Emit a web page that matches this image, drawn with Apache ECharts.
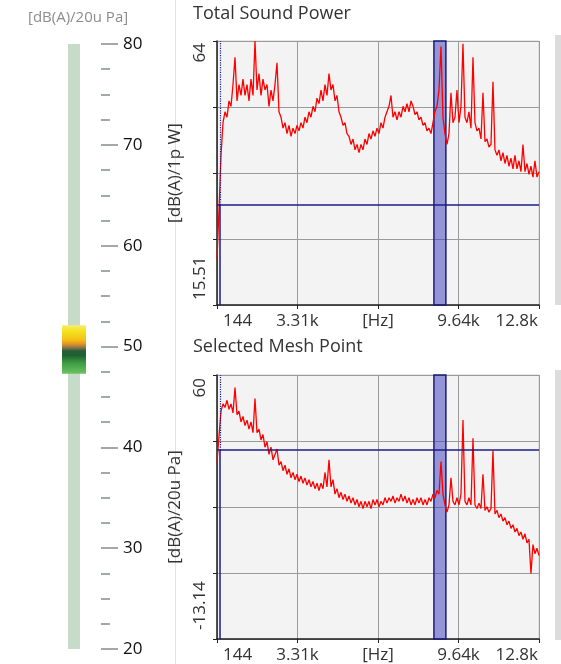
<!DOCTYPE html>
<html>
<head>
<meta charset="utf-8">
<script src="https://cdn.jsdelivr.net/npm/echarts@6/dist/echarts.min.js"></script>
<style>
  html, body { margin: 0; padding: 0; background: #fff; }
  #chart { width: 561px; height: 664px; }
</style>
</head>
<body>
<div id="chart"></div>
<script>
var fontFamily = '"Open Sans", "Noto Sans", sans-serif'

// frequency axis [Hz]
var xMin = 144
var xMax = 12800
var xInterval = 3164
var xTickLabels = ['144', '3.31k', '[Hz]', '9.64k', '12.8k']
var freqStart = 144
var freqStep = 78.6

// Total Sound Power [dB(A)/1p W]
var powerMin = 15.51
var powerMax = 64
var powerTickLabels = ['15.51', '', '', '', '64']
var powerValues = [
  24, 33, 43, 49, 51, 50, 53, 52, 56, 61,
  53, 56, 54, 57, 54, 56, 53, 57, 54, 64,
  55, 58, 54, 57, 55, 56, 52, 55, 53, 56,
  60, 51, 50, 48, 49, 47, 48.5, 46.5, 48, 47,
  48.5, 47.5, 49, 48, 50, 49, 51, 50, 52, 51,
  53.5, 52.5, 55, 53, 56, 54, 58, 55, 56, 53,
  54, 51, 50, 48.5, 49, 47, 46.5, 45, 46, 44,
  45, 43.5, 45, 44, 46, 45, 47, 46, 47.5, 46.5,
  48, 47, 49, 48, 50, 51, 52, 54, 50, 51,
  49.5, 51, 50, 52, 51, 52.5, 51, 53, 52, 50.5,
  51, 49.5, 50, 48.5, 49, 47.5, 48, 47, 49, 51,
  52, 55, 63, 50, 47, 45, 47, 54.5, 49, 50,
  55, 49, 52, 63.5, 50, 49, 51, 48, 61, 49,
  47.5, 48, 46, 54.5, 45.5, 46, 44.5, 45, 56.5, 44,
  43, 44, 42, 43.5, 41.5, 43, 41, 42.5, 40.5, 43,
  40.5, 42, 40, 45, 40, 41.5, 39.5, 41, 39, 42,
  39, 40
]
var powerCursor = 33.88

// Selected Mesh Point [dB(A)/20u Pa]
var meshMin = -13.14
var meshMax = 60
var meshTickLabels = ['-13.14', '', '', '', '60']
var meshValues = [
  36, 43, 50, 52, 51, 53, 50.5, 52, 49.5, 56.5,
  49, 50, 47, 48.5, 46, 47.5, 45, 47, 44, 53.5,
  44, 45, 42, 43.5, 40, 41.5, 38, 40, 36.5, 38,
  39.5, 35, 36, 33.5, 35, 32.5, 34, 31.5, 33, 31,
  32.5, 30.5, 32, 30, 31.5, 29.5, 31, 29, 30.5, 28.5,
  30, 28, 30, 28.5, 33, 29, 36.5, 29, 31, 27,
  28.5, 26, 27.5, 25.5, 27, 25, 26.5, 24.5, 26, 24,
  25.5, 23.5, 25, 23, 25, 23.5, 25, 23, 25.5, 24,
  25.5, 23.5, 25, 24, 26, 24.5, 26, 25, 26.5, 24.5,
  26, 25, 27, 25, 26.5, 24.5, 26, 24, 25.5, 24,
  26, 24.5, 26, 24, 25.5, 24, 26, 25, 27, 26,
  28, 27, 36, 27, 24, 22, 24, 31.5, 25, 24,
  26, 24, 27, 47.5, 25, 24, 26, 24, 42.5, 24,
  23, 24.5, 23, 32.5, 22.5, 23.5, 22, 23, 39, 21.5,
  22.5, 20.5, 21.5, 19.5, 20.5, 18.5, 19.5, 17.5, 18.5, 16.5,
  17.5, 15.5, 16.5, 14.5, 16, 13.5, 14.5, 5, 13, 10.5,
  12, 10
]
var meshCursor = 39.2

// selected band and cursor frequency [Hz]
var bandFrom = 8670
var bandTo = 9140
var cursorFreq = 262

// level scale on the left
var scaleMin = 20
var scaleMax = 80
var levelLow = 47.3
var levelHigh = 52.1

function toPairs(values) {
  return values.map(function (v, i) {
    return [freqStart + i * freqStep, v]
  })
}

var labelSize = 17

var richEnds = {
  first: { fontSize: labelSize, color: '#333', fontFamily: fontFamily, width: 60, align: 'left', padding: [0, 0, 0, 72] },
  last: { fontSize: labelSize, color: '#333', fontFamily: fontFamily, width: 60, align: 'right', padding: [0, 62, 0, 0] }
}

function freqAxis(gridIndex) {
  return {
    type: 'value',
    gridIndex: gridIndex,
    min: xMin,
    max: xMax,
    interval: xInterval,
    axisLine: { show: true, onZero: false, lineStyle: { color: '#222', width: 1.5 } },
    axisTick: { show: true, length: 4, lineStyle: { color: '#222' } },
    axisLabel: {
      margin: 8,
      color: '#333',
      fontSize: labelSize,
      fontFamily: fontFamily,
      formatter: function (v, i) {
        if (i === 0) return '{first|' + xTickLabels[0] + '}'
        if (i === xTickLabels.length - 1) return '{last|' + xTickLabels[i] + '}'
        return xTickLabels[i]
      },
      rich: richEnds
    },
    splitLine: { show: true, lineStyle: { color: '#9a9a9a', width: 1 } }
  }
}

function levelAxis(gridIndex, min, max, labels, name, padMax, padMin) {
  return {
    type: 'value',
    gridIndex: gridIndex,
    min: min,
    max: max,
    interval: (max - min) / 4,
    name: name,
    nameLocation: 'middle',
    nameGap: 9,
    nameRotate: 90,
    nameTextStyle: { fontSize: labelSize, color: '#333', fontFamily: fontFamily },
    axisLine: { show: true, onZero: false, lineStyle: { color: '#222', width: 1.5 } },
    axisTick: { show: true, length: 4, lineStyle: { color: '#222' } },
    axisLabel: {
      rotate: 90,
      margin: 8,
      color: '#333',
      fontSize: labelSize,
      fontFamily: fontFamily,
      formatter: function (v, i) {
        if (i === 0) return '{first|' + labels[0] + '}'
        if (i === labels.length - 1) return '{last|' + labels[i] + '}'
        return ''
      },
      rich: {
        first: { fontSize: labelSize, color: '#333', fontFamily: fontFamily, width: 60, align: 'left', padding: [0, 0, 0, padMin] },
        last: { fontSize: labelSize, color: '#333', fontFamily: fontFamily, width: 60, align: 'right', padding: [0, padMax, 0, 0] }
      }
    },
    splitLine: { show: true, lineStyle: { color: '#9a9a9a', width: 1 } }
  }
}

function spectrumSeries(idx, values) {
  return {
    type: 'line',
    xAxisIndex: idx,
    yAxisIndex: idx,
    data: toPairs(values),
    showSymbol: false,
    symbol: 'none',
    lineStyle: { color: '#ff0000', width: 1.3 },
    z: 2
  }
}

function cursorSeries(idx, min, max, level) {
  return {
    type: 'line',
    xAxisIndex: idx,
    yAxisIndex: idx,
    data: [],
    z: 10,
    silent: true,
    markArea: {
      silent: true,
      itemStyle: { color: 'rgba(70, 70, 190, 0.55)', borderColor: '#1c1c7a', borderWidth: 1.5 },
      data: [[{ xAxis: bandFrom }, { xAxis: bandTo }]]
    },
    markLine: {
      silent: true,
      symbol: ['none', 'none'],
      label: { show: false },
      lineStyle: { color: '#1c1c86', width: 1.5, type: 'solid' },
      data: [
        { yAxis: level },
        [{ coord: [cursorFreq, min] }, { coord: [cursorFreq, level] }],
        [{ coord: [cursorFreq, level], lineStyle: { type: 'dotted', width: 1.2 } }, { coord: [cursorFreq, max] }]
      ]
    }
  }
}

var chart = echarts.init(document.getElementById('chart'))

chart.setOption({
  animation: false,
  textStyle: { fontFamily: fontFamily },
  title: [
    { text: 'Total Sound Power', left: 193, top: 5, padding: 0, textStyle: { fontSize: 18, fontWeight: 'normal', color: '#333', fontFamily: fontFamily } },
    { text: 'Selected Mesh Point', left: 193, top: 338, padding: 0, textStyle: { fontSize: 18, fontWeight: 'normal', color: '#333', fontFamily: fontFamily } },
    { text: '[dB(A)/20u Pa]', left: 28, top: 10, padding: 0, textStyle: { fontSize: 15, fontWeight: 'normal', color: '#8c8c8c', fontFamily: fontFamily } }
  ],
  grid: [
    { left: 217, top: 41, width: 322, height: 264, show: true, backgroundColor: '#f3f3f3', borderColor: '#cfcfcf', borderWidth: 1 },
    { left: 217, top: 375, width: 322, height: 264, show: true, backgroundColor: '#f3f3f3', borderColor: '#cfcfcf', borderWidth: 1 },
    { left: 47, top: 44, width: 54, height: 605 }
  ],
  xAxis: [
    freqAxis(0),
    freqAxis(1),
    { type: 'category', gridIndex: 2, data: ['scale'], show: false },
    { type: 'category', gridIndex: 2, data: ['level'], show: false }
  ],
  yAxis: [
    levelAxis(0, powerMin, powerMax, powerTickLabels, '[dB(A)/1p W]', 64, 70),
    levelAxis(1, meshMin, meshMax, meshTickLabels, '[dB(A)/20u Pa]', 66, 78),
    {
      type: 'value',
      gridIndex: 2,
      position: 'right',
      min: scaleMin,
      max: scaleMax,
      interval: 10,
      axisLine: { show: false },
      axisTick: { show: true, length: 17, lineStyle: { color: '#a3aaa3', width: 2 } },
      minorTick: { show: true, splitNumber: 4, length: 9, lineStyle: { color: '#a3aaa3', width: 2 } },
      axisLabel: { margin: 22, color: '#111', fontSize: 17, fontFamily: fontFamily },
      splitLine: { show: false }
    }
  ],
  series: [
    spectrumSeries(0, powerValues),
    cursorSeries(0, powerMin, powerMax, powerCursor),
    spectrumSeries(1, meshValues),
    cursorSeries(1, meshMin, meshMax, meshCursor),
    {
      type: 'bar', xAxisIndex: 2, yAxisIndex: 2, stack: 'scale', barWidth: 12, silent: true,
      itemStyle: { color: 'rgba(0,0,0,0)' }, data: [scaleMin]
    },
    {
      type: 'bar', xAxisIndex: 2, yAxisIndex: 2, stack: 'scale', barWidth: 12, silent: true,
      itemStyle: { color: '#c6dcc9' }, data: [scaleMax - scaleMin]
    },
    {
      type: 'bar', xAxisIndex: 3, yAxisIndex: 2, stack: 'level', barWidth: 24, silent: true,
      itemStyle: { color: 'rgba(0,0,0,0)' }, data: [levelLow]
    },
    {
      type: 'bar', xAxisIndex: 3, yAxisIndex: 2, stack: 'level', barWidth: 24, silent: true, z: 3,
      itemStyle: {
        color: new echarts.graphic.LinearGradient(0, 0, 0, 1, [
          { offset: 0, color: '#f7ee6a' },
          { offset: 0.12, color: '#f4e21e' },
          { offset: 0.3, color: '#f2c214' },
          { offset: 0.38, color: '#ec9322' },
          { offset: 0.46, color: '#86784c' },
          { offset: 0.53, color: '#2a5c36' },
          { offset: 0.62, color: '#1c6132' },
          { offset: 0.78, color: '#3f9c44' },
          { offset: 1, color: '#6cc262' }
        ])
      },
      data: [levelHigh - levelLow]
    }
  ],
  graphic: [
    { type: 'line', silent: true, shape: { x1: 175.5, y1: 0, x2: 175.5, y2: 664 }, style: { stroke: '#e2e2e2', lineWidth: 1 } },
    { type: 'rect', silent: true, shape: { x: 555, y: 35, width: 6, height: 270 }, style: { fill: '#dcdcdc' } },
    { type: 'rect', silent: true, shape: { x: 555, y: 370, width: 6, height: 270 }, style: { fill: '#dcdcdc' } }
  ]
})
</script>
</body>
</html>
